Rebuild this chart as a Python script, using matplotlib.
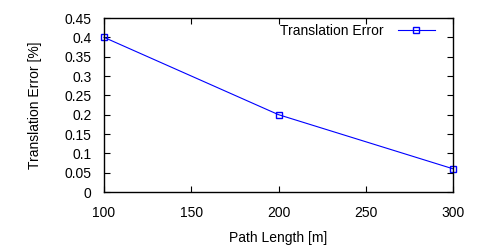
import matplotlib
matplotlib.use("Agg")
import matplotlib.pyplot as plt
from matplotlib.lines import Line2D

path_length = [100, 200, 300]
translation_error = [0.4, 0.2, 0.06]
xticks = [100, 150, 200, 250, 300]
yticks = [0, 0.05, 0.1, 0.15, 0.2, 0.25, 0.3, 0.35, 0.4, 0.45]
ytick_labels = ["0", "0.05", "0.1", "0.15", "0.2", "0.25", "0.3", "0.35", "0.4", "0.45"]

plt.rcParams['font.family'] = ['Liberation Sans', 'DejaVu Sans']
fig = plt.figure(figsize=(5, 2.5), dpi=100)
ax = fig.add_axes([0.208, 0.232, 0.698, 0.696])
ax.plot(path_length, translation_error, color='blue', linewidth=0.8, marker='s',
        markersize=5, markerfacecolor='none', markeredgecolor='blue', markeredgewidth=1,
        label='Translation Error', clip_on=False)
ax.set_xlim(100, 300)
ax.set_ylim(0, 0.45)
ax.set_xticks(xticks)
ax.set_yticks(yticks)
ax.set_yticklabels(ytick_labels)
ax.tick_params(direction='in', top=True, right=True, length=4, width=0.8, labelsize=10)
ax.tick_params(axis='y', pad=9)
ax.tick_params(axis='x', pad=10)
for s in ax.spines.values():
    s.set_linewidth(1)
ax.set_xlabel('Path Length [m]', fontsize=10, labelpad=8)
ax.set_ylabel('Translation Error [%]', fontsize=10, labelpad=16)
handle = Line2D([], [], color='blue', linewidth=0.8, marker='s', markersize=4,
                markerfacecolor='none', markeredgecolor='blue', markeredgewidth=1)
leg = ax.legend([handle], ['Translation Error'], loc='upper right', frameon=False,
                markerfirst=False, fontsize=10, handlelength=2.7, handletextpad=1.0,
                borderaxespad=0.2, bbox_to_anchor=(0.973, 1.015))
fig.savefig('out.png', dpi=100)
